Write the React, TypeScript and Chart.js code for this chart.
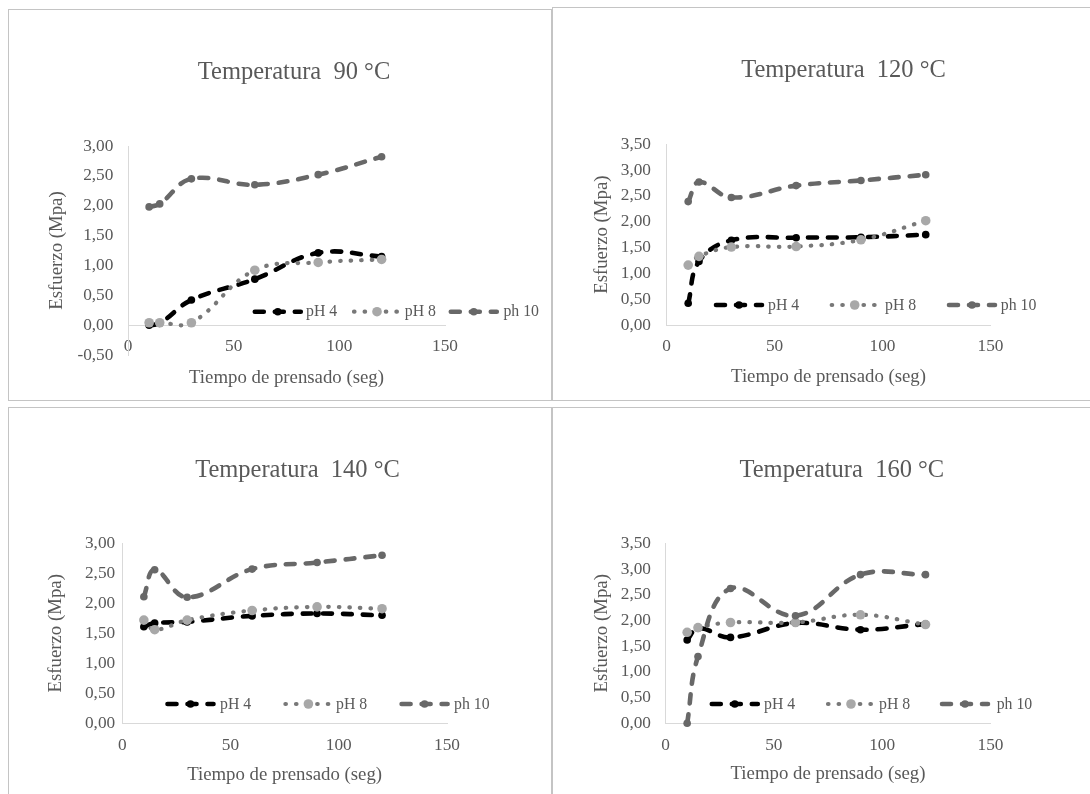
import React, { useEffect, useRef } from 'react';
import { Chart, registerables } from 'chart.js';

Chart.register(...registerables);

// ---------------- data ----------------
const TIME_SEG = [10, 15, 30, 60, 90, 120];
const SERIES_LABELS = ['pH 4', 'pH 8', 'ph 10'];
const X_TITLE = 'Tiempo de prensado (seg)';
const Y_TITLE = 'Esfuerzo (Mpa)';

const T90_PH4 = [0.0, 0.03, 0.42, 0.77, 1.21, 1.15];
const T90_PH8 = [0.04, 0.04, 0.04, 0.92, 1.05, 1.1];
const T90_PH10 = [1.98, 2.03, 2.45, 2.35, 2.52, 2.82];

const T120_PH4 = [0.42, 1.23, 1.64, 1.69, 1.7, 1.75];
const T120_PH8 = [1.16, 1.33, 1.51, 1.52, 1.65, 2.02];
const T120_PH10 = [2.39, 2.77, 2.47, 2.7, 2.8, 2.91];

const T140_PH4 = [1.61, 1.67, 1.69, 1.79, 1.83, 1.8];
const T140_PH8 = [1.72, 1.56, 1.72, 1.88, 1.94, 1.91];
const T140_PH10 = [2.11, 2.56, 2.1, 2.57, 2.68, 2.8];

const T160_PH4 = [1.62, 1.85, 1.67, 1.95, 1.82, 1.93];
const T160_PH8 = [1.77, 1.86, 1.96, 1.96, 2.11, 1.92];
const T160_PH10 = [0.0, 1.3, 2.62, 2.09, 2.89, 2.89];

// ---------------- styles ----------------
const FONT = '"Liberation Serif", "Times New Roman", serif';
const TEXT = '#595959';
const AXIS = '#d9d9d9';
const PANEL_BORDER = '#c4c4c4';
const FS_TITLE = 24.5;
const FS_TICK = 17.3;
const FS_AXIS = 18.8;
const FS_LEG = 15.8;
const LH = 1.2;

const SERIES_STYLE = [
  { color: '#000000', width: 4.6, dash: [9, 11], point: '#000000', r: 3.8, order: 3 },
  { color: '#787878', width: 4.2, dash: [0.5, 10.1], point: '#a8a8a8', r: 4.8, order: 2 },
  { color: '#686868', width: 4.6, dash: [9, 11], point: '#686868', r: 3.8, order: 1 },
];

type Geo = {
  panel: [number, number, number, number];
  canvas: [number, number, number, number];
  titleX: number;
  titleY: number;
  areaL: number;
  areaR: number;
  areaT: number;
  areaB: number;
  zeroY: number;
  yTitleX: number;
  yTickGap: number;
  xLabelY: number;
  xTitleY: number;
  legendY: number;
  legendSample: number[];
  legendText: number[];
};

type Spec = {
  title: string;
  series: number[][];
  yMin: number;
  yMax: number;
  geo: Geo;
};

const SPECS: Spec[] = [
  {
    title: 'Temperatura  90 °C',
    series: [T90_PH4, T90_PH8, T90_PH10],
    yMin: -0.5,
    yMax: 3,
    geo: {
      panel: [8, 9, 544, 392],
      canvas: [9, 10, 542, 390],
      titleX: 294, titleY: 73,
      areaL: 128, areaR: 445, areaT: 146, areaB: 355, zeroY: 325,
      yTitleX: 57.4, yTickGap: 14.6, xLabelY: 346.7, xTitleY: 378,
      legendY: 311.7, legendSample: [252.8, 352, 448.8], legendText: [306, 404.8, 503.4],
    },
  },
  {
    title: 'Temperatura  120 °C',
    series: [T120_PH4, T120_PH8, T120_PH10],
    yMin: 0,
    yMax: 3.5,
    geo: {
      panel: [552, 7, 560, 394],
      canvas: [553, 8, 560, 392],
      titleX: 843.5, titleY: 71,
      areaL: 666.6, areaR: 990.5, areaT: 144.3, areaB: 325, zeroY: 325,
      yTitleX: 601.6, yTickGap: 15.6, xLabelY: 346.7, xTitleY: 376.7,
      legendY: 305, legendSample: [714, 829.7, 947], legendText: [768, 885, 1000.8],
    },
  },
  {
    title: 'Temperatura  140 °C',
    series: [T140_PH4, T140_PH8, T140_PH10],
    yMin: 0,
    yMax: 3,
    geo: {
      panel: [8, 407, 544, 420],
      canvas: [9, 408, 542, 386],
      titleX: 297.5, titleY: 471,
      areaL: 122.2, areaR: 447, areaT: 543.3, areaB: 723.3, zeroY: 723.3,
      yTitleX: 56.3, yTickGap: 7, xLabelY: 745.7, xTitleY: 775,
      legendY: 704, legendSample: [165.5, 283.4, 399.6], legendText: [220, 336, 454],
    },
  },
  {
    title: 'Temperatura  160 °C',
    series: [T160_PH4, T160_PH8, T160_PH10],
    yMin: 0,
    yMax: 3.5,
    geo: {
      panel: [552, 407, 560, 420],
      canvas: [553, 408, 560, 386],
      titleX: 841.8, titleY: 471,
      areaL: 665.5, areaR: 990.5, areaT: 543.3, areaB: 723.3, zeroY: 723.3,
      yTitleX: 601.6, yTickGap: 14.5, xLabelY: 745, xTitleY: 774.3,
      legendY: 704, legendSample: [709.8, 826, 940], legendText: [764, 879, 996.7],
    },
  },
];

Chart.defaults.font.family = FONT;

function buildConfig(spec: Spec): any {
  const g = spec.geo;
  const [cx, cy, cw, ch] = g.canvas;
  const lhT = FS_TITLE * LH;
  const lhA = FS_AXIS * LH;
  const lhK = FS_TICK * LH;
  const padL = 2 * (g.titleX - cx) - cw;
  const yW = g.areaL - cx - padL;
  const rightW = cx + cw - g.areaR;
  const tPadTop = g.titleY - cy - lhT / 2;
  const tPadBot = g.areaT - cy - tPadTop - lhT;
  const xH = cy + ch - g.areaB;
  const objectPos = spec.yMin < 0;
  const xTitlePadBot = objectPos
    ? g.zeroY + xH - lhA / 2 - g.xTitleY
    : cy + ch - g.xTitleY - lhA / 2;
  const xTickPad = g.xLabelY - g.zeroY - lhK / 2;
  const yTitlePadTop = g.yTitleX - (cx + padL) - lhA / 2;

  const datasets = spec.series.map((vals, i) => {
    const st = SERIES_STYLE[i];
    return {
      label: SERIES_LABELS[i],
      data: TIME_SEG.map((t, j) => ({ x: t, y: vals[j] })),
      xAxisID: 'x',
      yAxisID: 'y',
      borderColor: st.color,
      borderWidth: st.width,
      borderDash: st.dash,
      borderCapStyle: 'round',
      borderJoinStyle: 'round',
      pointBackgroundColor: st.point,
      pointBorderColor: st.point,
      pointBorderWidth: 0,
      pointRadius: st.r,
      pointHoverRadius: st.r,
      tension: 0.4,
      fill: false,
      order: st.order,
      clip: false,
    };
  });

  const legendPlugin = {
    id: 'excelLegend',
    afterDraw(chart: any) {
      const ctx = chart.ctx as CanvasRenderingContext2D;
      const y = g.legendY - cy;
      chart.data.datasets.forEach((ds: any, i: number) => {
        const sx = g.legendSample[i] - cx;
        const tx = g.legendText[i] - cx;
        ctx.save();
        ctx.strokeStyle = ds.borderColor;
        ctx.lineWidth = ds.borderWidth;
        ctx.lineCap = 'round';
        ctx.setLineDash(ds.borderDash);
        ctx.beginPath();
        ctx.moveTo(sx + 2, y);
        ctx.lineTo(sx + 48, y);
        ctx.stroke();
        ctx.setLineDash([]);
        ctx.fillStyle = ds.pointBackgroundColor;
        ctx.beginPath();
        ctx.arc(sx + 25, y, ds.pointRadius, 0, Math.PI * 2);
        ctx.fill();
        ctx.fillStyle = TEXT;
        ctx.font = `${FS_LEG}px ${FONT}`;
        ctx.textBaseline = 'middle';
        ctx.textAlign = 'left';
        ctx.fillText(ds.label, tx, y + 0.5);
        ctx.restore();
      });
    },
  };

  return {
    type: 'line',
    data: { datasets },
    plugins: [legendPlugin],
    options: {
      responsive: false,
      animation: false,
      events: [],
      layout: { padding: { left: padL, right: 0, top: 0, bottom: objectPos ? xH : 0 } },
      plugins: {
        legend: { display: false },
        tooltip: { enabled: false },
        title: {
          display: true,
          text: spec.title,
          color: TEXT,
          font: { size: FS_TITLE, weight: 'normal', family: FONT, lineHeight: LH },
          padding: { top: tPadTop, bottom: tPadBot },
        },
      },
      scales: {
        x: {
          type: 'linear',
          min: 0,
          max: 150,
          position: objectPos ? { y: 0 } : 'bottom',
          grid: { display: false, drawTicks: false },
          border: { display: true, color: AXIS, width: 1 },
          ticks: {
            stepSize: 50,
            padding: xTickPad,
            color: TEXT,
            font: { size: FS_TICK, lineHeight: LH },
            maxRotation: 0,
            autoSkip: false,
          },
          title: {
            display: true,
            text: X_TITLE,
            color: TEXT,
            font: { size: FS_AXIS, lineHeight: LH },
            padding: { top: 0, bottom: xTitlePadBot },
          },
          afterFit: (s: any) => {
            s.height = xH;
          },
        },
        y: {
          type: 'linear',
          min: spec.yMin,
          max: spec.yMax,
          position: 'left',
          grid: { display: false, drawTicks: false },
          border: { display: true, color: AXIS, width: 1 },
          ticks: {
            stepSize: 0.5,
            padding: g.yTickGap,
            color: TEXT,
            font: { size: FS_TICK, lineHeight: LH },
            callback: (v: any) => Number(v).toFixed(2).replace('.', ','),
          },
          title: {
            display: true,
            text: Y_TITLE,
            color: TEXT,
            font: { size: FS_AXIS, lineHeight: LH },
            padding: { top: yTitlePadTop, bottom: 0 },
          },
          afterFit: (s: any) => {
            s.width = yW;
          },
        },
        pad: {
          type: 'linear',
          position: 'right',
          display: true,
          grid: { display: false, drawTicks: false },
          border: { display: false },
          ticks: { display: false },
          title: { display: false },
          afterFit: (s: any) => {
            s.width = rightW;
          },
        },
      },
    },
  };
}

function Panel({ spec }: { spec: Spec }) {
  const ref = useRef<HTMLCanvasElement | null>(null);
  useEffect(() => {
    if (!ref.current) return;
    const chart = new Chart(ref.current, buildConfig(spec));
    return () => chart.destroy();
  }, [spec]);
  const [bx, by, bw, bh] = spec.geo.panel;
  const [cx, cy, cw, ch] = spec.geo.canvas;
  return (
    <>
      <div
        style={{
          position: 'absolute',
          left: bx,
          top: by,
          width: bw,
          height: bh,
          border: `1px solid ${PANEL_BORDER}`,
          boxSizing: 'border-box',
        }}
      />
      <canvas
        ref={ref}
        width={cw}
        height={ch}
        style={{ position: 'absolute', left: cx, top: cy, width: cw, height: ch }}
      />
    </>
  );
}

export default function App() {
  return (
    <div
      style={{
        position: 'absolute',
        left: 0,
        top: 0,
        width: 1090,
        height: 794,
        overflow: 'hidden',
        background: '#ffffff',
      }}
    >
      {SPECS.map((s, i) => (
        <Panel key={i} spec={s} />
      ))}
    </div>
  );
}
